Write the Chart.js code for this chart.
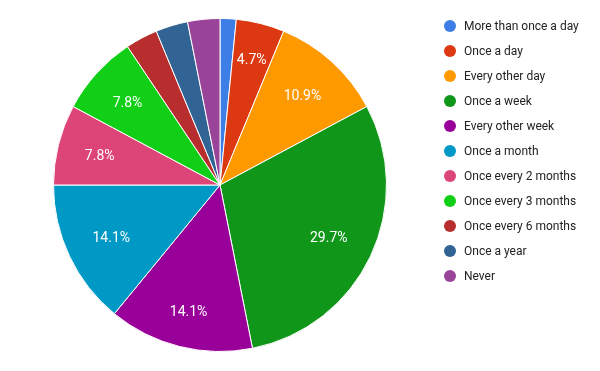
<!DOCTYPE html>
<html>
<head>
<meta charset="utf-8">
<script src="https://cdn.jsdelivr.net/npm/chart.js@4/dist/chart.umd.min.js"></script>
<style>
  html, body { margin: 0; padding: 0; background: #fff; }
  #wrap { width: 600px; height: 371px; position: relative; }
</style>
</head>
<body>
<div id="wrap"><canvas id="myChart"></canvas></div>
<script>
// responses, out of 64
const categories = ['More than once a day', 'Once a day', 'Every other day', 'Once a week', 'Every other week',
    'Once a month', 'Once every 2 months', 'Once every 3 months', 'Once every 6 months', 'Once a year', 'Never'];
const counts = [1, 3, 7, 19, 9, 9, 5, 5, 2, 2, 2];
const colors = ['#3d7de6', '#dc3912', '#ff9900', '#109618', '#990099', '#0099c6',
    '#dd4477', '#11cf17', '#b82e2e', '#316395', '#994499'];

const FONT = 'Roboto, "Noto Sans", Arial, sans-serif';

// percent labels inside slices
const sliceLabels = {
    id: 'sliceLabels',
    afterDatasetsDraw(chart) {
        const ctx = chart.ctx;
        const meta = chart.getDatasetMeta(0);
        const total = counts.reduce((a, b) => a + b, 0);
        ctx.save();
        ctx.font = '14px ' + FONT;
        ctx.fillStyle = '#fff';
        ctx.textAlign = 'center';
        ctx.textBaseline = 'middle';
        meta.data.forEach((arc, i) => {
            const pct = counts[i] / total * 100;
            if (pct < 4) return;
            const txt = pct.toFixed(1) + '%';
            const mid = (arc.startAngle + arc.endAngle) / 2;
            const hw = ctx.measureText(txt).width / 2;
            const hh = 6;
            const ext = Math.abs(Math.cos(mid)) * hw + Math.abs(Math.sin(mid)) * hh;
            const d = arc.outerRadius * 0.84 - ext;
            ctx.fillText(txt, arc.x + Math.cos(mid) * d, arc.y + Math.sin(mid) * d + 2);
        });
        ctx.restore();
    }
};

// legend on the right, drawn by hand
const sideLegend = {
    id: 'sideLegend',
    afterDraw(chart) {
        const ctx = chart.ctx;
        ctx.save();
        ctx.font = '12px ' + FONT;
        ctx.textBaseline = 'middle';
        categories.forEach((name, i) => {
            const y = 26 + i * 25;
            ctx.fillStyle = colors[i];
            ctx.beginPath();
            ctx.arc(450, y, 6, 0, Math.PI * 2);
            ctx.fill();
            ctx.fillStyle = '#222';
            ctx.fillText(name, 464, y + 1);
        });
        ctx.restore();
    }
};

const canvas = document.getElementById('myChart');
const myChart = new Chart(canvas, {
    type: 'pie',
    data: {
        labels: categories,
        datasets: [{
            data: counts,
            backgroundColor: colors,
            borderColor: '#fff',
            borderWidth: 1
        }]
    },
    options: {
        responsive: true,
        maintainAspectRatio: false,
        animation: false,
        layout: {
            padding: { left: 53, right: 213, top: 18, bottom: 19 }
        },
        plugins: {
            legend: { display: false },
            tooltip: { enabled: false }
        }
    },
    plugins: [sliceLabels, sideLegend]
});
</script>
</body>
</html>
